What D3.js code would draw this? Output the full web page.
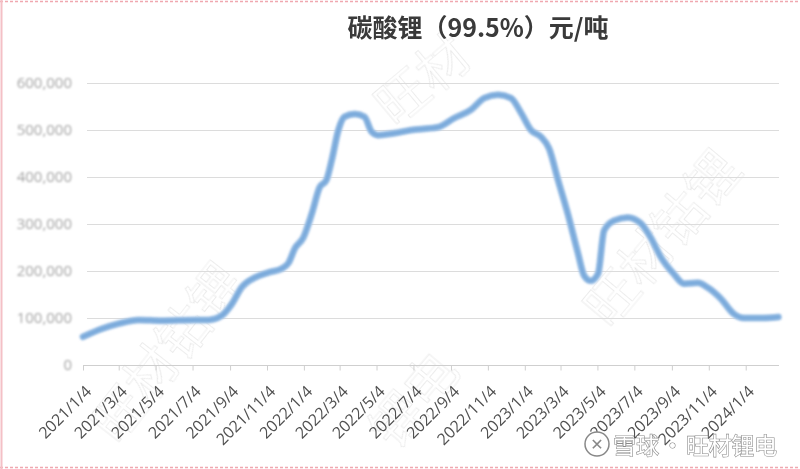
<!DOCTYPE html>
<html>
<head>
<meta charset="utf-8">
<script src="https://cdn.jsdelivr.net/npm/d3@7"></script>
<style>
  html, body { margin: 0; padding: 0; background: #fff; }
  svg { display: block; }
</style>
</head>
<body>
<div id="chart"></div>
<script>
// Lithium carbonate (99.5%) price, yuan/ton
const dates = [
  "2021-01-04", "2021-02-04", "2021-03-04", "2021-04-06", "2021-05-14", "2021-07-08",
  "2021-07-31", "2021-08-21", "2021-09-07", "2021-09-23", "2021-10-15", "2021-11-07",
  "2021-11-28", "2021-12-10", "2021-12-20", "2022-01-03", "2022-01-17", "2022-01-30",
  "2022-02-10", "2022-02-19", "2022-03-02", "2022-03-12", "2022-03-29", "2022-04-14",
  "2022-04-26", "2022-05-07", "2022-06-02", "2022-07-01", "2022-08-02", "2022-08-14",
  "2022-09-09", "2022-10-07", "2022-10-29", "2022-11-21", "2022-12-12", "2022-12-29",
  "2023-01-14", "2023-01-31", "2023-02-13", "2023-02-28", "2023-03-16", "2023-04-02",
  "2023-04-12", "2023-04-23", "2023-05-05", "2023-05-15", "2023-05-31", "2023-06-23",
  "2023-07-15", "2023-07-31", "2023-08-17", "2023-09-07", "2023-09-24", "2023-10-17",
  "2023-11-02", "2023-11-24", "2023-12-15", "2024-01-01", "2024-02-03", "2024-02-27"
];
const prices = [
  60000, 77000, 88000, 96000, 94000, 96000,
  96000, 105000, 130000, 165000, 186000, 197000,
  205000, 218000, 248000, 271000, 322000, 378000,
  393000, 436000, 500000, 528000, 534000, 528000,
  496000, 489000, 493000, 500000, 504000, 506000,
  525000, 543000, 568000, 575000, 568000, 536000,
  500000, 485000, 461000, 393000, 322000, 237000,
  190000, 179000, 194000, 286000, 307000, 314000,
  301000, 271000, 229000, 194000, 173000, 175000,
  165000, 141000, 109000, 100000, 100000, 102000
];
const yTicks = [0, 100000, 200000, 300000, 400000, 500000, 600000];
const xTickLabels = [
  "2021/1/4", "2021/3/4", "2021/5/4", "2021/7/4", "2021/9/4", "2021/11/4",
  "2022/1/4", "2022/3/4", "2022/5/4", "2022/7/4", "2022/9/4", "2022/11/4",
  "2023/1/4", "2023/3/4", "2023/5/4", "2023/7/4", "2023/9/4", "2023/11/4",
  "2024/1/4"
];
const title = "碳酸锂（99.5%）元/吨";

const width = 800, height = 469;
const margin = { top: 83, right: 21, bottom: 105, left: 83 };
const parse = d3.timeParse("%Y-%m-%d");
const parseTick = d3.timeParse("%Y/%m/%d");
const data = dates.map((d, i) => ({ date: parse(d), value: prices[i] }));

const svg = d3.select("#chart").append("svg")
  .attr("width", width).attr("height", height);

// soft blur, the source is a fuzzy screenshot
const defs = svg.append("defs");
defs.append("filter").attr("id", "soft")
  .attr("x", "-5%").attr("y", "-5%").attr("width", "110%").attr("height", "110%")
  .append("feGaussianBlur").attr("stdDeviation", 0.9);
defs.append("filter").attr("id", "fuzzy")
  .attr("x", "-10%").attr("y", "-30%").attr("width", "120%").attr("height", "160%")
  .append("feGaussianBlur").attr("stdDeviation", 1.3);

// page border remnants
svg.append("line").attr("x1", 0).attr("x2", width).attr("y1", 1.5).attr("y2", 1.5)
  .attr("stroke", "#f0a8b0").attr("stroke-width", 1.5).attr("stroke-dasharray", "3,2");
svg.append("line").attr("x1", 0).attr("x2", width).attr("y1", 467.5).attr("y2", 467.5)
  .attr("stroke", "#f0a8b0").attr("stroke-width", 1.5).attr("stroke-dasharray", "3,2");
svg.append("line").attr("x1", 1.5).attr("x2", 1.5).attr("y1", 0).attr("y2", height)
  .attr("stroke", "#f4c0c6").attr("stroke-width", 2);

const x = d3.scaleTime()
  .domain([parse("2021-01-04"), parse("2024-02-28")])
  .range([margin.left, width - margin.right]);
const y = d3.scaleLinear()
  .domain([0, 600000])
  .range([height - margin.bottom + 1, margin.top]);

// watermarks, very faint
const wm = svg.append("g").attr("font-family", "Noto Sans CJK SC")
  .attr("fill", "none").attr("stroke", "#d2d2d2").attr("stroke-width", 0.7)
  .attr("opacity", 0.55).attr("font-size", 52);
[[118, 446, -52, "旺材钴锂"], [395, 128, -40, "旺材"], [610, 330, -50, "旺材钴锂"], [395, 452, -50, "锂电"]]
  .forEach(([wx, wy, r, t]) => {
    wm.append("text").attr("transform", `translate(${wx},${wy}) rotate(${r})`).text(t);
  });

// gridlines
svg.append("g")
  .selectAll("line")
  .data(yTicks.slice(1))
  .join("line")
  .attr("x1", margin.left + 4).attr("x2", width - margin.right)
  .attr("y1", (d) => Math.round(y(d)) + 0.5).attr("y2", (d) => Math.round(y(d)) + 0.5)
  .attr("stroke", "#dcdcdc").attr("stroke-width", 1);

// y labels
svg.append("g")
  .attr("font-family", "Open Sans, sans-serif").attr("font-size", 15)
  .attr("fill", "#a4a4a4").attr("text-anchor", "end")
  .attr("filter", "url(#fuzzy)")
  .selectAll("text")
  .data(yTicks)
  .join("text")
  .attr("x", 72).attr("y", (d) => y(d) + 5)
  .text((d) => d3.format(",")(d));

// x axis
const tickDates = xTickLabels.map((t) => parseTick(t));
const xAxis = svg.append("g")
  .attr("transform", `translate(0,${Math.round(y(0)) + 0.5})`)
  .call(d3.axisBottom(x).tickValues(tickDates).tickSize(5).tickFormat((d, i) => xTickLabels[i]));
xAxis.select(".domain").attr("stroke", "#cfcfcf").attr("d", `M${margin.left},0H${width - margin.right}`);
xAxis.selectAll(".tick line").attr("stroke", "#cfcfcf");
xAxis.selectAll(".tick text")
  .attr("font-family", "Open Sans, sans-serif").attr("font-size", 16)
  .attr("fill", "#505050")
  .attr("text-anchor", "end")
  .attr("y", 0).attr("dx", 0).attr("dy", 0)
  .attr("transform", "translate(9,27) rotate(-45)");

// price line
const line = d3.line()
  .x((d) => x(d.date))
  .y((d) => y(d.value))
  .curve(d3.curveMonotoneX);

svg.append("path")
  .datum(data)
  .attr("fill", "none")
  .attr("stroke", "#aecbea")
  .attr("stroke-width", 7)
  .attr("stroke-linecap", "round")
  .attr("stroke-linejoin", "round")
  .attr("filter", "url(#soft)")
  .attr("d", line);
svg.append("path")
  .datum(data)
  .attr("fill", "none")
  .attr("stroke", "#7aaadb")
  .attr("stroke-width", 4.5)
  .attr("stroke-linecap", "round")
  .attr("stroke-linejoin", "round")
  .attr("filter", "url(#soft)")
  .attr("d", line);

// title
svg.append("text")
  .attr("x", 478).attr("y", 37)
  .attr("text-anchor", "middle")
  .attr("font-family", "Noto Sans CJK SC, sans-serif")
  .attr("font-size", 25).attr("font-weight", 700)
  .attr("fill", "#3a3a3a")
  .text(title);

// source logo
const logo = svg.append("g").attr("transform", "translate(597,444)");
logo.append("circle").attr("r", 12).attr("fill", "#fff").attr("stroke", "#888").attr("stroke-width", 1.5);
logo.append("text").attr("text-anchor", "middle").attr("y", 6).attr("font-family", "DejaVu Sans")
  .attr("font-size", 16).attr("fill", "#888").text("✕");
const src = svg.append("g")
  .attr("font-family", "Noto Sans CJK SC, sans-serif")
  .attr("font-size", 23)
  .attr("fill", "#fff").attr("stroke", "#8a8a8a").attr("stroke-width", 1.2)
  .attr("paint-order", "stroke");
src.append("text").attr("x", 613).attr("y", 454).text("雪球");
src.append("text").attr("x", 661).attr("y", 454).text("·");
src.append("text").attr("x", 686).attr("y", 454).attr("textLength", 91).text("旺材锂电");
</script>
</body>
</html>
